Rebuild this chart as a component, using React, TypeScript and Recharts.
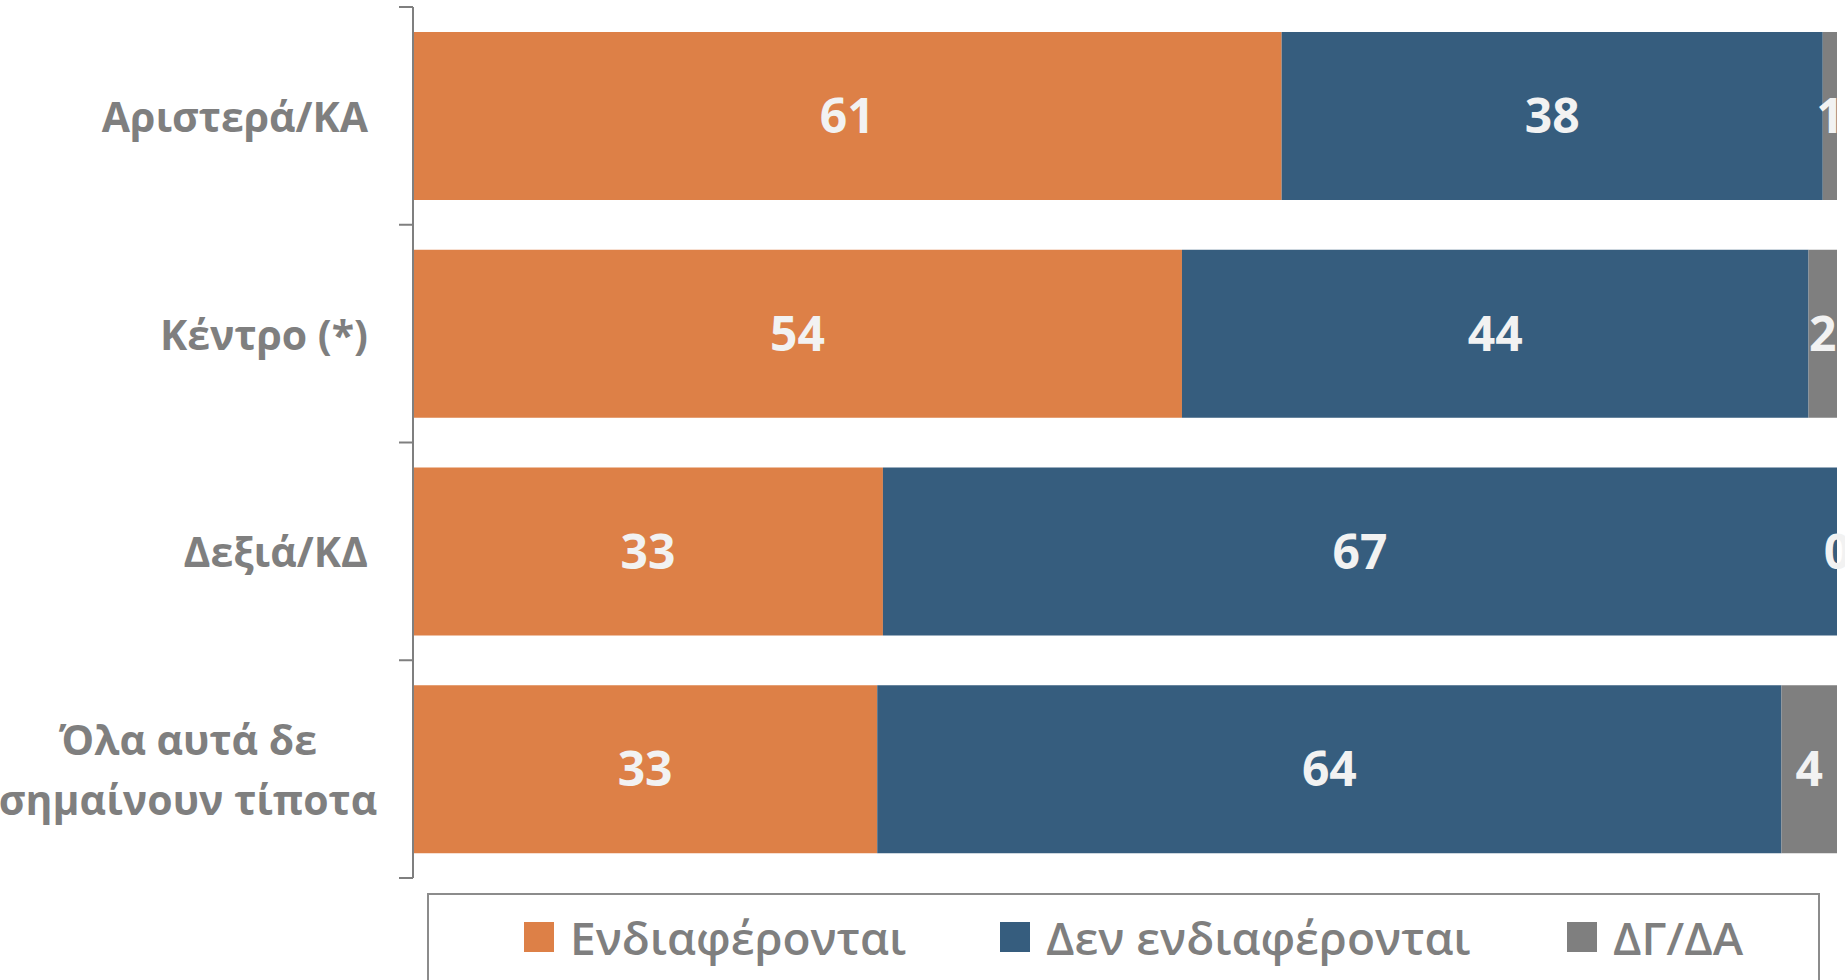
import { BarChart, Bar, XAxis, YAxis, LabelList, Legend, Rectangle } from 'recharts';

// categories (top to bottom) and their wrapped display lines
const categories = ['Αριστερά/ΚΑ', 'Κέντρο (*)', 'Δεξιά/ΚΔ', 'Όλα αυτά δε σημαίνουν τίποτα'];
const categoryLines = [['Αριστερά/ΚΑ'], ['Κέντρο (*)'], ['Δεξιά/ΚΔ'], ['Όλα αυτά δε', 'σημαίνουν τίποτα']];

// series values (%)
const interested = [61, 54, 33, 32.6];
const notInterested = [38, 44, 67, 63.5];
const dkNa = [1, 2, 0, 3.9];

const seriesNames = ['Ενδιαφέρονται', 'Δεν ενδιαφέρονται', 'ΔΓ/ΔΑ'];
const seriesKeys = ['interested', 'notInterested', 'dkNa'];
const seriesColors = ['#dd8047', '#365d7e', '#7f7f7f'];

const data = categories.map((c, i) => ({
  category: c,
  interested: interested[i],
  notInterested: notInterested[i],
  dkNa: dkNa[i],
}));

const FONT = '"Open Sans", "Noto Sans", sans-serif';
const GREY = '#7f7f7f';
const PLOT_TOP = 7;
const PLOT_BOTTOM_MARGIN = 102;
const HEIGHT = 980;
const HALF_BAND = (HEIGHT - PLOT_TOP - PLOT_BOTTOM_MARGIN) / categories.length / 2;

const CategoryTick = (props: any) => {
  const { x, y, index } = props;
  const lines = categoryLines[index] || [props.payload.value];
  const axisX = x + 45;
  return (
    <g>
      <line x1={axisX - 14} x2={axisX} y1={y - HALF_BAND} y2={y - HALF_BAND} stroke={GREY} strokeWidth={2} />
      {index === categories.length - 1 && (
        <line x1={axisX - 14} x2={axisX} y1={y + HALF_BAND} y2={y + HALF_BAND} stroke={GREY} strokeWidth={2} />
      )}
      {lines.length === 1 ? (
        <text x={x} y={y} textAnchor="end" dominantBaseline="central" fill={GREY} fontSize={41} fontWeight={700} fontFamily={FONT}>
          {lines[0]}
        </text>
      ) : (
        lines.map((l, i) => (
          <text key={i} x={x - 180} y={y + (i - (lines.length - 1) / 2) * 60} textAnchor="middle" dominantBaseline="central" fill={GREY} fontSize={41} fontWeight={700} fontFamily={FONT}>
            {l}
          </text>
        ))
      )}
    </g>
  );
};

// zero-valued segments keep a 1px slot so their label is still drawn, but no rectangle
const SegmentShape = (props: any) => {
  const v = Array.isArray(props.value) ? props.value[1] - props.value[0] : props.value;
  if (!v) return <g />;
  return <Rectangle {...props} />;
};

const legendLefts = [95, 571, 1138];

const renderLegend = () => (
  <div style={{ width: '100%', height: '100%', border: '2px solid #8c8c8c', boxSizing: 'border-box', position: 'relative', fontFamily: FONT }}>
    {seriesNames.map((name, i) => (
      <div key={name} style={{ position: 'absolute', left: legendLefts[i], top: 12, height: 60, display: 'flex', alignItems: 'center' }}>
        <span style={{ display: 'inline-block', width: 30, height: 30, background: seriesColors[i], marginRight: 16 }} />
        <span style={{ fontSize: 46, color: GREY, fontWeight: 600, whiteSpace: 'nowrap' }}>{name}</span>
      </div>
    ))}
  </div>
);

export default function App() {
  return (
    <div style={{ position: 'absolute', left: 0, top: 0, width: 1845, height: HEIGHT, overflow: 'hidden', background: '#fff' }}>
      <BarChart
        width={1845}
        height={HEIGHT}
        data={data}
        layout="vertical"
        margin={{ top: PLOT_TOP, right: 8, bottom: PLOT_BOTTOM_MARGIN, left: 0 }}
        barCategoryGap="11.5%"
      >
        <XAxis type="number" domain={[0, 100]} hide />
        <YAxis
          type="category"
          dataKey="category"
          width={413}
          interval={0}
          axisLine={{ stroke: GREY, strokeWidth: 2 }}
          tickLine={false}
          tickSize={13}
          tickMargin={32}
          tick={<CategoryTick />}
        />
        <Legend
          layout="horizontal"
          verticalAlign="middle"
          align="center"
          content={renderLegend}
          wrapperStyle={{ left: 427, top: 893, width: 1393, height: 110 }}
        />
        {seriesKeys.map((k, i) => (
          <Bar
            key={k}
            dataKey={k}
            name={seriesNames[i]}
            stackId="a"
            fill={seriesColors[i]}
            minPointSize={1}
            shape={<SegmentShape />}
            isAnimationActive={false}
          >
            <LabelList
              dataKey={k}
              position="center"
              formatter={(v: any) => String(Math.round(Number(v)))}
              fill="#f2f2f2"
              fontSize={48}
              fontWeight={700}
              fontFamily={FONT}
            />
          </Bar>
        ))}
      </BarChart>
    </div>
  );
}
